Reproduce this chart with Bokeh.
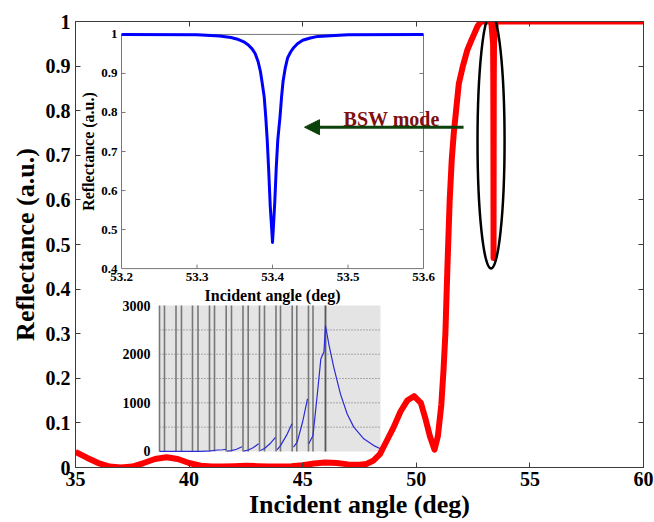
import math
from bokeh.plotting import figure
from bokeh.models import Range1d, LinearAxis, FixedTicker, Arrow, NormalHead
from bokeh.core.properties import value
from bokeh.embed import file_html
from bokeh.resources import INLINE

FONT = "Liberation Serif"

# ---------------- main curve (incident angle in deg, reflectance) ----------------
ANGLE = [35.0, 35.5, 36.0, 36.5, 37.0, 37.5, 38.0, 38.5, 39.0, 39.5, 40.0, 40.5,
         41.0, 41.5, 42.0, 42.5, 43.0, 43.5, 44.0, 44.5, 45.0, 45.5, 46.0, 46.5,
         47.0, 47.5, 47.8, 48.1, 48.4, 48.7, 49.0, 49.3, 49.6, 49.9, 50.2, 50.4,
         50.6, 50.8, 50.95, 51.1, 51.2, 51.28, 51.37, 51.47, 51.56, 51.65, 51.75,
         51.87, 52.05, 52.24, 52.4, 52.53, 52.7, 52.85, 53.3, 53.38, 53.39, 53.395,
         53.4, 53.405, 53.41, 53.42, 53.5, 60.0]
REFL = [0.035, 0.022, 0.010, 0.002, 0.0, 0.002, 0.010, 0.019, 0.023, 0.019, 0.010, 0.004,
        0.002, 0.002, 0.003, 0.004, 0.003, 0.002, 0.002, 0.003, 0.005, 0.009, 0.011, 0.010,
        0.007, 0.006, 0.008, 0.015, 0.030, 0.060, 0.090, 0.125, 0.150, 0.160, 0.145, 0.110,
        0.070, 0.040, 0.070, 0.140, 0.220, 0.300, 0.450, 0.600, 0.690, 0.750, 0.800,
        0.860, 0.900, 0.935, 0.955, 0.970, 0.990, 1.0, 1.0, 0.95, 0.86, 0.70,
        0.47, 0.70, 0.86, 0.95, 1.0, 1.0]

X_TICKS = [35, 40, 45, 50, 55, 60]
X_TICK_LABELS = ["35", "40", "45", "50", "55", "60"]
Y_TICKS = [0, 0.1, 0.2, 0.3, 0.4, 0.5, 0.6, 0.7, 0.8, 0.9, 1]
Y_TICK_LABELS = ["0", "0.1", "0.2", "0.3", "0.4", "0.5", "0.6", "0.7", "0.8", "0.9", "1"]

# ---------------- inset 1: zoom on BSW dip ----------------
IN1_ANGLE = [53.20, 53.30, 53.33, 53.345, 53.355, 53.362, 53.368, 53.373, 53.377,
             53.381, 53.384, 53.386, 53.389, 53.391, 53.393, 53.395, 53.397, 53.399,
             53.400, 53.401, 53.403, 53.405, 53.407, 53.410, 53.412, 53.414, 53.417,
             53.420, 53.424, 53.428, 53.433, 53.440, 53.450, 53.460, 53.500, 53.600]
IN1_REFL = [1.0, 0.999, 0.996, 0.992, 0.987, 0.981, 0.973, 0.963, 0.951,
            0.930, 0.905, 0.880, 0.840, 0.790, 0.730, 0.650, 0.560, 0.500,
            0.467, 0.500, 0.570, 0.660, 0.730, 0.790, 0.840, 0.880, 0.915,
            0.940, 0.955, 0.966, 0.976, 0.985, 0.991, 0.995, 0.999, 1.0]
IN1_X_TICKS = [53.2, 53.3, 53.4, 53.5, 53.6]
IN1_X_TICK_LABELS = ["53.2", "53.3", "53.4", "53.5", "53.6"]
IN1_Y_TICKS = [0.4, 0.5, 0.6, 0.7, 0.8, 0.9, 1.0]
IN1_Y_TICK_LABELS = ["0.4", "0.5", "0.6", "0.7", "0.8", "0.9", "1"]
IN1_X_SPAN = (53.2, 53.6)
IN1_Y_SPAN = (0.4, 1.0)
IN1_BOX_X = (37.025, 50.317)      # where the inset sits, in main-axes units
IN1_BOX_Y = (0.446, 0.971)

# ---------------- inset 2: field enhancement screenshot ----------------
NAN = float("nan")
IN2_X = [0, 11.76, 18.55, 23.08, 24.89, 28.51, 30.09, NAN,
         30.54, 32.58, 34.84, 37.33, NAN,
         38.01, 40.27, 42.53, 44.80, NAN,
         45.70, 47.51, 50.23, 52.49, NAN,
         53.17, 54.75, 57.47, 59.95, NAN,
         60.63, 62.31, 64.71, 66.97, NAN,
         67.55, 69.46, 71.36, 72.99, 74.43, 75.11, 76.61, 78.87, 81.90, 84.93,
         87.92, 92.44, 96.97, 100.0]
IN2_Y = [0, 0, 3, 12, 25, 35, 45, NAN,
         5, 18, 45, 95, NAN,
         5, 30, 80, 160, NAN,
         20, 60, 170, 290, NAN,
         30, 120, 330, 570, NAN,
         90, 190, 600, 1080, NAN,
         160, 330, 1150, 1900, 2050, 2590, 2210, 1730, 1180, 770,
         500, 260, 120, 55]
IN2_VLINES = [0, 2.26, 7.47, 9.95, 14.93, 17.42, 22.62, 24.89, 30.18, 32.58, 37.78,
              40.14, 45.25, 47.51, 52.71, 54.75, 60.05, 62.13, 67.42, 69.46]
IN2_PEAK_LINE = [75.11]
IN2_GRID = [500, 1000, 1500, 2000, 2500]
IN2_Y_TICKS = [0, 1000, 2000, 3000]
IN2_Y_TICK_LABELS = ["0", "1000", "2000", "3000"]
IN2_X_SPAN = (0, 100)
IN2_Y_SPAN = (0, 3000)
IN2_BOX_X = (38.697, 48.424)
IN2_BOX_Y = (0.036, 0.363)

# ---------------- annotations ----------------
ELLIPSE = dict(x=[53.29], y=[0.732], w=[1.19], h=[0.572])
ARROW_FROM = (52.08, 0.763)
ARROW_TO = (45.08, 0.763)
LABEL_POS = (46.8, 0.781)
LABEL_TEXT = "BSW mode"

AXIS_COLOR = "#3c3c3c"

p = figure(width=654, height=522, x_range=Range1d(35, 60), y_range=Range1d(0, 1),
           output_backend="svg", toolbar_location=None,
           min_border_left=75, min_border_right=11, min_border_top=21, min_border_bottom=55)
p.grid.visible = False
p.outline_line_color = AXIS_COLOR
p.background_fill_color = "white"
p.border_fill_color = "white"

p.xaxis.ticker = FixedTicker(ticks=X_TICKS)
p.xaxis.major_label_overrides = dict(zip(X_TICKS, X_TICK_LABELS))
p.yaxis.ticker = FixedTicker(ticks=Y_TICKS)
p.yaxis.major_label_overrides = dict(zip(Y_TICKS, Y_TICK_LABELS))
p.xaxis.axis_label = "Incident angle (deg)"
p.yaxis.axis_label = "Reflectance (a.u.)"
for ax in (p.xaxis, p.yaxis):
    ax.major_tick_in = 5
    ax.major_tick_out = 0
    ax.minor_tick_in = 0
    ax.minor_tick_out = 0
    ax.axis_line_color = AXIS_COLOR
    ax.major_tick_line_color = AXIS_COLOR
    ax.major_label_text_font = FONT
    ax.major_label_text_font_style = "bold"
    ax.major_label_text_font_size = "20px"
    ax.major_label_text_color = "black"
    ax.axis_label_text_font = FONT
    ax.axis_label_text_font_style = "bold"
    ax.axis_label_text_font_size = "26px"
    ax.axis_label_text_color = "black"
p.xaxis.major_label_standoff = 4
p.xaxis.axis_label_standoff = 1
p.yaxis.major_label_standoff = 5
p.yaxis.axis_label_standoff = 3

top_ax = LinearAxis(ticker=FixedTicker(ticks=X_TICKS),
                    major_label_overrides={t: "" for t in X_TICKS})
right_ax = LinearAxis(ticker=FixedTicker(ticks=Y_TICKS),
                      major_label_overrides={t: "" for t in Y_TICKS})
for ax in (top_ax, right_ax):
    ax.major_tick_in = 5
    ax.major_tick_out = 0
    ax.minor_tick_in = 0
    ax.minor_tick_out = 0
    ax.major_label_standoff = 0
    ax.major_label_text_font_size = "0px"
    ax.axis_line_color = AXIS_COLOR
    ax.major_tick_line_color = AXIS_COLOR
p.add_layout(top_ax, "above")
p.add_layout(right_ax, "right")

# ---------------- inset 2 ----------------
s2 = p.subplot(x_source=Range1d(*IN2_X_SPAN), y_source=Range1d(*IN2_Y_SPAN),
               x_target=Range1d(*IN2_BOX_X), y_target=Range1d(*IN2_BOX_Y))
s2.quad(left=[IN2_X_SPAN[0]], right=[IN2_X_SPAN[1]], bottom=[IN2_Y_SPAN[0]], top=[IN2_Y_SPAN[1]],
        fill_color="#e4e4e4", line_color=None)
s2.segment(x0=IN2_X_SPAN[0], x1=IN2_X_SPAN[1], y0=IN2_GRID, y1=IN2_GRID,
           line_color="#6a6a6a", line_width=1, line_dash="1 2")
s2.segment(x0=IN2_VLINES, x1=IN2_VLINES, y0=IN2_Y_SPAN[0], y1=IN2_Y_SPAN[1],
           line_color="#787878", line_width=1.6)
s2.segment(x0=IN2_PEAK_LINE, x1=IN2_PEAK_LINE, y0=IN2_Y_SPAN[0], y1=IN2_Y_SPAN[1],
           line_color="#585858", line_width=1.8)
s2.line(IN2_X, IN2_Y, line_color="#2b2bd6", line_width=1.2)
s2.text(x=[IN2_X_SPAN[0]] * len(IN2_Y_TICKS), y=IN2_Y_TICKS, text=IN2_Y_TICK_LABELS,
        text_font=value(FONT), text_font_style="bold", text_font_size="14px",
        text_color="black", text_align="right", text_baseline="middle", x_offset=-9)

# ---------------- inset 1 ----------------
s1 = p.subplot(x_source=Range1d(*IN1_X_SPAN), y_source=Range1d(*IN1_Y_SPAN),
               x_target=Range1d(*IN1_BOX_X), y_target=Range1d(*IN1_BOX_Y))
s1.quad(left=[IN1_X_SPAN[0]], right=[IN1_X_SPAN[1]], bottom=[IN1_Y_SPAN[0]], top=[IN1_Y_SPAN[1]],
        fill_color="white", line_color="#777777", line_width=1)
inner_y = IN1_Y_TICKS[1:-1]
inner_x = IN1_X_TICKS[1:-1]
s1.ray(x=[IN1_X_SPAN[0]] * len(inner_y), y=inner_y, length=4, length_units="screen",
       angle=0, line_color="#777777")
s1.ray(x=[IN1_X_SPAN[1]] * len(inner_y), y=inner_y, length=4, length_units="screen",
       angle=math.pi, line_color="#777777")
s1.ray(x=inner_x, y=[IN1_Y_SPAN[0]] * len(inner_x), length=4, length_units="screen",
       angle=math.pi / 2, line_color="#777777")
s1.line(IN1_ANGLE, IN1_REFL, line_color="#0000ff", line_width=3, line_join="round")
s1.text(x=[IN1_X_SPAN[0]] * len(IN1_Y_TICKS), y=IN1_Y_TICKS, text=IN1_Y_TICK_LABELS,
        text_font=value(FONT), text_font_style="bold", text_font_size="13px",
        text_color="black", text_align="right", text_baseline="middle", x_offset=-4)
s1.text(x=IN1_X_TICKS, y=[IN1_Y_SPAN[0]] * len(IN1_X_TICKS), text=IN1_X_TICK_LABELS,
        text_font=value(FONT), text_font_style="bold", text_font_size="13px",
        text_color="black", text_align="center", text_baseline="top", y_offset=4)
s1.text(x=[sum(IN1_X_SPAN) / 2], y=[IN1_Y_SPAN[0]], text=["Incident angle (deg)"],
        text_font=value(FONT), text_font_style="bold", text_font_size="16px",
        text_color="black", text_align="center", text_baseline="top", y_offset=18)
s1.text(x=[IN1_X_SPAN[0]], y=[sum(IN1_Y_SPAN) / 2], text=["Reflectance (a.u.)"],
        text_font=value(FONT), text_font_style="bold", text_font_size="16px",
        text_color="black", text_align="center", text_baseline="middle",
        angle=math.pi / 2, x_offset=-33)

# ---------------- main curve & annotations ----------------
p.line(ANGLE, REFL, line_color="#ff0000", line_width=6, line_join="round")
p.ellipse(x=ELLIPSE["x"], y=ELLIPSE["y"], width=ELLIPSE["w"], height=ELLIPSE["h"],
          fill_alpha=0, line_color="black", line_width=2.5)
GREEN = "#0a420a"
p.add_layout(Arrow(end=NormalHead(size=15, fill_color=GREEN, line_color=GREEN),
                   x_start=ARROW_FROM[0], y_start=ARROW_FROM[1],
                   x_end=ARROW_TO[0], y_end=ARROW_TO[1],
                   line_color=GREEN, line_width=3))
p.text(x=[LABEL_POS[0]], y=[LABEL_POS[1]], text=[LABEL_TEXT], text_font=value(FONT),
       text_font_style="bold", text_font_size="20px", text_color="#7f1010",
       text_align="left", text_baseline="alphabetic")

open("out.html", "w").write(file_html(p, INLINE))
